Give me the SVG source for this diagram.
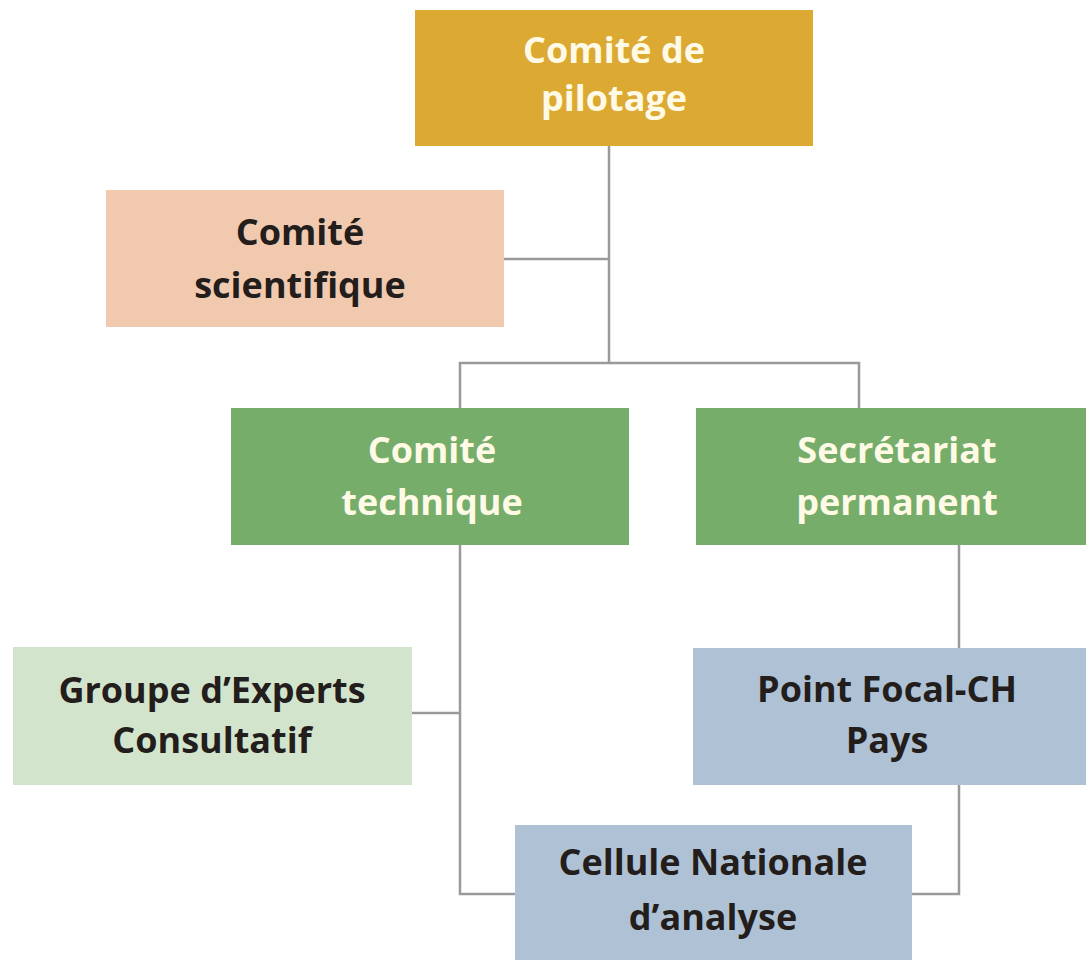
<svg xmlns="http://www.w3.org/2000/svg" width="1086" height="960" viewBox="0 0 1086 960">
<style>
.t{font-family:"Open Sans","Liberation Sans",sans-serif;font-weight:700;font-size:36px;text-anchor:middle}
.light{fill:#FFFAE6}
.dark{fill:#231d1c}
.conn{fill:none;stroke:#9a9a9a;stroke-width:2.5}
</style>
<rect width="1086" height="960" fill="#ffffff"/>
<g id="connectors">
<path class="conn" d="M609,146 V363"/>
<path class="conn" d="M504,259 H609"/>
<path class="conn" d="M460,408 V363 H859 V408"/>
<path class="conn" d="M460,545 V894 H515"/>
<path class="conn" d="M412,713 H460"/>
<path class="conn" d="M959,545 V648"/>
<path class="conn" d="M959,785 V894 H912"/>
</g>
<g id="pilotage">
<rect x="415" y="10" width="398" height="136" fill="#DCAA33"/>
<text class="t light" x="614" y="63">Comité de</text>
<text class="t light" x="614" y="111">pilotage</text>
</g>
<g id="scientifique">
<rect x="106" y="190" width="398" height="137" fill="#F1C9AF"/>
<text class="t dark" x="300" y="245">Comité</text>
<text class="t dark" x="300" y="298">scientifique</text>
</g>
<g id="technique">
<rect x="231" y="408" width="398" height="137" fill="#77AD6A"/>
<text class="t light" x="432" y="463">Comité</text>
<text class="t light" x="432" y="515">technique</text>
</g>
<g id="secretariat">
<rect x="696" y="408" width="390" height="137" fill="#77AD6A"/>
<text class="t light" x="897" y="463">Secrétariat</text>
<text class="t light" x="897" y="515">permanent</text>
</g>
<g id="groupe">
<rect x="13" y="647" width="399" height="138" fill="#D3E4CC"/>
<text class="t dark" x="212" y="703">Groupe d’Experts</text>
<text class="t dark" x="212" y="753">Consultatif</text>
</g>
<g id="pointfocal">
<rect x="693" y="648" width="393" height="137" fill="#AFC2D5"/>
<text class="t dark" x="887" y="702">Point Focal-CH</text>
<text class="t dark" x="887" y="753">Pays</text>
</g>
<g id="cellule">
<rect x="515" y="825" width="397" height="135" fill="#AFC2D5"/>
<text class="t dark" x="713" y="875">Cellule Nationale</text>
<text class="t dark" x="713" y="930">d’analyse</text>
</g>
</svg>
